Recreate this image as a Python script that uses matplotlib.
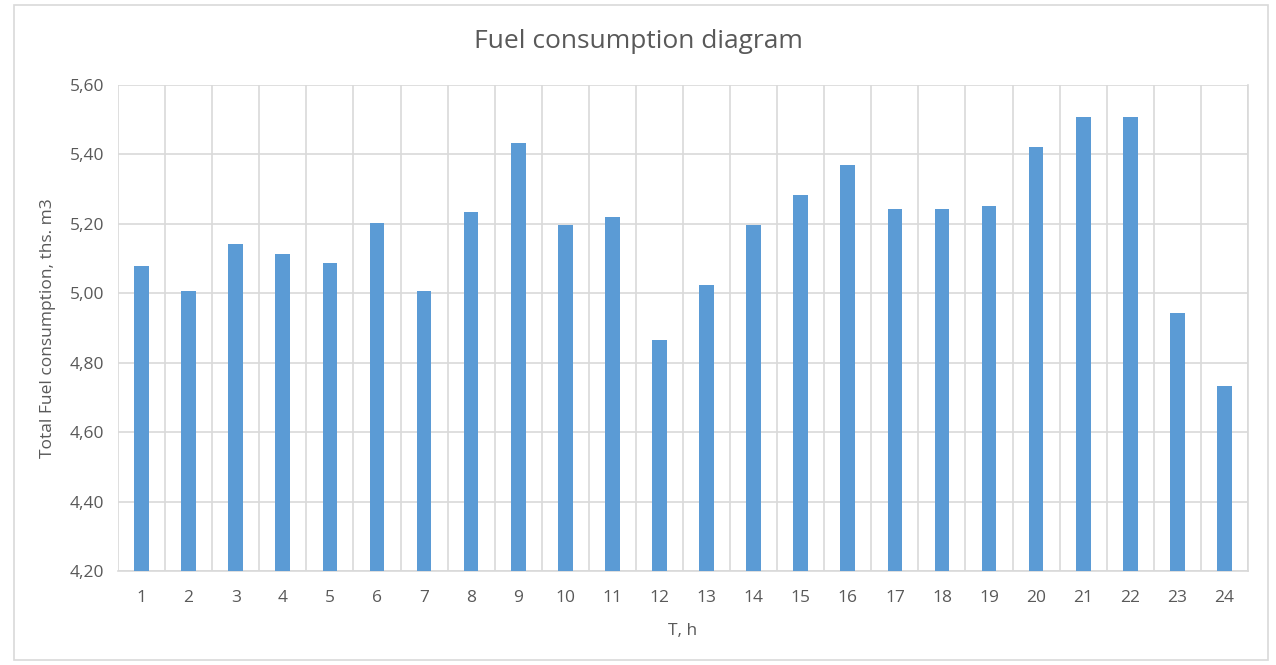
import matplotlib.pyplot as plt
from matplotlib.patches import Rectangle
from matplotlib.ticker import FuncFormatter, MultipleLocator
import numpy as np

hours = list(range(1, 25))
fuel = [5.078, 5.006, 5.141, 5.114, 5.087, 5.203, 5.006, 5.235, 5.434, 5.196,
        5.220, 4.866, 5.023, 5.196, 5.283, 5.370, 5.242, 5.242, 5.251, 5.421,
        5.508, 5.508, 4.942, 4.733]
y_ticks = [4.2, 4.4, 4.6, 4.8, 5.0, 5.2, 5.4, 5.6]

plt.rcParams['font.family'] = ['Open Sans', 'DejaVu Sans']
txt = '#595959'
grid = '#D9D9D9'

fig = plt.figure(figsize=(12.76, 6.65), dpi=100)
fig.patches.append(Rectangle((14 / 1276, 5 / 665), 1254 / 1276, 655 / 665,
                             transform=fig.transFigure, fill=False,
                             edgecolor=grid, linewidth=1.2))
ax = fig.add_axes([118 / 1276, 1 - 571 / 665, 1130 / 1276, 486 / 665])

x = np.arange(len(hours))
ax.bar(x, fuel, width=0.31, color='#5B9BD5', zorder=3)

ax.set_xlim(-0.5, len(hours) - 0.5)
ax.set_ylim(y_ticks[0], y_ticks[-1])
ax.set_yticks(y_ticks)
ax.yaxis.set_major_formatter(FuncFormatter(lambda v, p: f"{v:.2f}".replace('.', ',')))
ax.set_xticks(x)
ax.set_xticklabels([str(h) for h in hours])
ax.xaxis.set_minor_locator(MultipleLocator(1, offset=0.5))

ax.grid(axis='y', which='major', color=grid, linewidth=1.2, zorder=0)
ax.grid(axis='x', which='minor', color=grid, linewidth=1.2, zorder=0)
for s in ['top', 'left']:
    ax.spines[s].set_visible(False)
ax.spines['right'].set_color(grid)
ax.spines['right'].set_linewidth(1.2)
ax.spines['bottom'].set_color(grid)
ax.spines['bottom'].set_linewidth(1.2)
ax.tick_params(axis='both', which='both', length=0, colors=txt, labelsize=12.5)
ax.tick_params(axis='x', pad=14)
ax.tick_params(axis='y', pad=10)

fig.text(0.5, 1 - 42 / 665, 'Fuel consumption diagram', fontsize=19, color=txt,
         ha='center', va='center')
ax.set_xlabel('T, h', fontsize=12.5, color=txt, labelpad=12)
ax.set_ylabel('Total Fuel consumption, ths. m3', fontsize=12.5, color=txt, labelpad=10)

fig.savefig('out.png', dpi=100)
